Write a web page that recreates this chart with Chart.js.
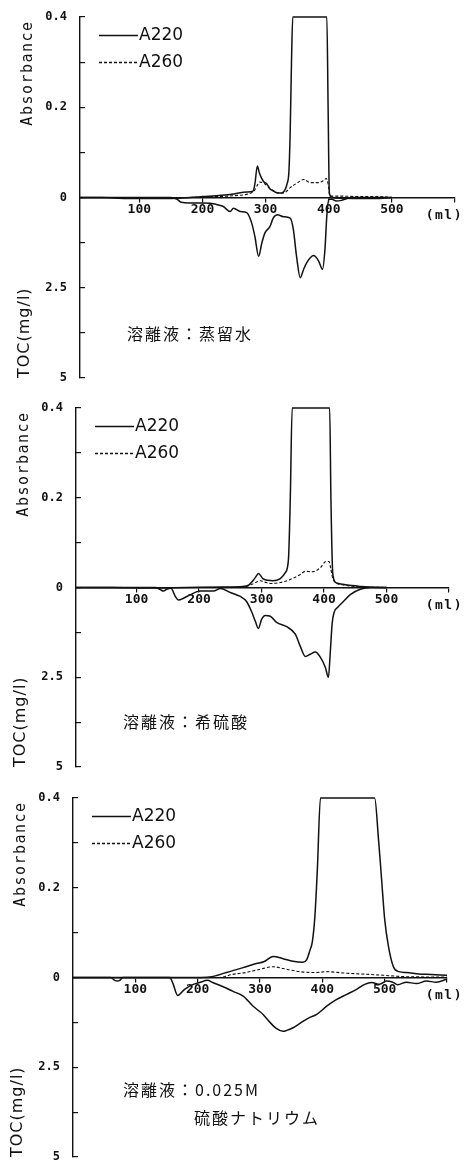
<!DOCTYPE html>
<html>
<head>
<meta charset="utf-8">
<script src="https://cdn.jsdelivr.net/npm/chart.js@4.4.0/dist/chart.umd.min.js"></script>
<style>
    html, body { margin: 0; padding: 0; background: #fff; }
    body { width: 465px; height: 1162px; position: relative; overflow: hidden; }
    canvas { position: absolute; left: 0; }
</style>
</head>
<body>
<canvas id="panel1" width="465" height="390" style="top:0px"></canvas>
<canvas id="panel2" width="465" height="390" style="top:390px"></canvas>
<canvas id="panel3" width="465" height="382" style="top:780px"></canvas>
<script>
// 눈금 값과 라벨
const xTickValues = [100, 200, 300, 400, 500, 600];
const xTickLabels = ['100', '200', '300', '400', '500', ''];
const yTickValues = [-0.4, -0.3, -0.2, -0.1, 0, 0.1, 0.2, 0.3, 0.4];
const yTickLabels = ['5', '', '2.5', '', '0', '', '0.2', '', '0.4'];
const seriesLabels = ['A220', 'A260', 'TOC'];

// 패널 1: 蒸留水
const p1A220Ml = [6, 40, 80, 110, 150, 180, 200, 230, 250, 270, 280, 283, 287, 290, 294, 297, 302, 307, 312, 318, 326, 331, 334, 337, 339, 341, 343, 397, 399, 401, 405, 440, 480, 500];
const p1A220   = [0, 0, -0.002, -0.002, -0.002, 0, 0.002, 0.005, 0.008, 0.012, 0.014, 0.03, 0.07, 0.055, 0.042, 0.035, 0.03, 0.019, 0.015, 0.01, 0.01, 0.018, 0.03, 0.06, 0.15, 0.3, 0.4, 0.4, 0.2, 0.01, 0, -0.002, -0.002, 0];
const p1A260Ml = [6, 60, 120, 180, 220, 250, 275, 282, 286, 291, 299, 307, 318, 329, 339, 350, 360, 371, 384, 392, 396, 399, 402, 420, 450, 480, 500];
const p1A260   = [0, 0, -0.001, 0, 0.002, 0.004, 0.009, 0.015, 0.025, 0.034, 0.03, 0.02, 0.011, 0.01, 0.022, 0.032, 0.04, 0.033, 0.033, 0.038, 0.042, 0.03, 0.003, 0.003, 0.002, 0.002, 0];
const p1TocMl  = [6, 100, 150, 160, 166, 180, 200, 212, 228, 233, 244, 249, 260, 270, 278, 283, 289, 294, 299, 307, 312, 319, 328, 339, 344, 349, 355, 360, 365, 376, 384, 390, 394, 397, 400, 405, 412, 420, 430, 440, 500];
const p1Toc    = [0, 0, 0, 0.05, 0.13, 0.15, 0.15, 0.16, 0.22, 0.25, 0.39, 0.3, 0.39, 0.42, 0.71, 1.08, 1.63, 1.26, 0.98, 0.8, 0.57, 0.48, 0.53, 0.57, 0.89, 1.63, 2.22, 2.0, 1.81, 1.61, 1.76, 1.99, 1.44, 0.5, 0.05, 0.05, 0.1, 0.08, 0.02, 0, 0];
const p1Eluent = ['溶離液：蒸留水'];

// 패널 2: 希硫酸
const p2A220Ml = [3, 60, 120, 180, 240, 270, 280, 290, 295, 302, 310, 318, 330, 338, 343, 346, 349, 409, 411, 414, 420, 430, 440, 455, 470, 500];
const p2A220   = [0, 0, -0.001, 0, 0.001, 0.002, 0.006, 0.022, 0.031, 0.02, 0.016, 0.015, 0.02, 0.033, 0.062, 0.2, 0.4, 0.4, 0.2, 0.03, 0.01, 0.007, 0.005, 0.003, 0.001, 0];
const p2A260Ml = [3, 100, 200, 270, 283, 293, 298, 305, 314, 330, 346, 362, 370, 381, 394, 403, 408, 411, 414, 420, 430, 445, 470, 500];
const p2A260   = [0, 0, 0, 0.001, 0.006, 0.013, 0.015, 0.012, 0.009, 0.011, 0.018, 0.029, 0.036, 0.035, 0.044, 0.058, 0.058, 0.04, 0.02, 0.01, 0.006, 0.003, 0.001, 0];
const p2TocMl  = [3, 100, 130, 138, 143, 148, 155, 162, 167, 175, 186, 202, 223, 234, 250, 266, 276, 284, 290, 295, 300, 306, 314, 324, 341, 354, 362, 370, 378, 386, 394, 402, 407, 410, 413, 416, 422, 431, 442, 458, 475, 500];
const p2Toc    = [0, 0, 0, 0.06, 0.1, 0.05, 0.02, 0.25, 0.35, 0.3, 0.2, 0.1, 0.1, 0.03, 0.14, 0.25, 0.39, 0.67, 0.94, 1.14, 0.89, 0.78, 0.8, 0.97, 1.1, 1.3, 1.64, 1.92, 1.86, 1.8, 1.94, 2.22, 2.5, 1.8, 1.0, 0.7, 0.55, 0.39, 0.2, 0.05, 0, 0];
const p2Eluent = ['溶離液：希硫酸'];

// 패널 3: 0.025M 硫酸ナトリウム
const p3A220Ml = [0, 100, 200, 219, 246, 273, 294, 306, 321, 337, 353, 369, 375, 380, 384, 388, 392, 397, 484, 490, 495, 500, 506, 514, 523, 535, 555, 567, 600];
const p3A220   = [0, 0, 0, 0.001, 0.011, 0.022, 0.031, 0.035, 0.047, 0.042, 0.036, 0.034, 0.04, 0.06, 0.08, 0.135, 0.24, 0.4, 0.4, 0.31, 0.22, 0.13, 0.07, 0.024, 0.013, 0.011, 0.008, 0.007, 0.005];
const p3A260Ml = [0, 100, 200, 235, 256, 277, 299, 321, 337, 364, 391, 407, 434, 460, 498, 530, 600];
const p3A260   = [0, 0, 0, 0, 0.007, 0.011, 0.018, 0.024, 0.02, 0.013, 0.011, 0.013, 0.01, 0.008, 0.005, 0.002, 0.001];
const p3TocMl  = [0, 60, 67, 71, 75, 80, 155, 160, 168, 179, 192, 203, 216, 224, 240, 256, 273, 289, 299, 305, 316, 326, 337, 342, 353, 369, 380, 391, 407, 423, 439, 455, 468, 479, 492, 503, 513, 521, 535, 551, 567, 583, 599];
const p3Toc    = [0, 0, 0.08, 0.1, 0.08, 0, 0, 0.15, 0.5, 0.33, 0.2, 0.14, 0.08, 0.14, 0.25, 0.38, 0.52, 0.8, 0.94, 1.03, 1.25, 1.42, 1.5, 1.48, 1.4, 1.22, 1.11, 1.03, 0.8, 0.61, 0.47, 0.33, 0.19, 0.14, 0.19, 0.1, 0.13, 0.2, 0.13, 0.17, 0.1, 0.13, 0.05];
const p3Eluent = ['溶離液：0.025M', '硫酸ナトリウム'];

const INK = '#111';

// 축 제목, 범례, 주석 그리기
const decorPlugin = {
    id: 'decor',
    afterDraw(chart, args, opts) {
        const { ctx, chartArea: a } = chart;
        const zeroY = chart.scales.y.getPixelForValue(0);
        ctx.save();
        ctx.fillStyle = INK;
        ctx.strokeStyle = INK;

        // 세로축 제목
        ctx.save();
        ctx.font = '15px "DejaVu Sans Mono"';
        ctx.letterSpacing = '1.5px';
        ctx.translate(a.left - 52, a.top + 56);
        ctx.rotate(-Math.PI / 2);
        ctx.textAlign = 'center';
        ctx.textBaseline = 'middle';
        ctx.fillText('Absorbance', 0, 0);
        ctx.restore();

        ctx.save();
        ctx.font = '16px "DejaVu Sans"';
        ctx.letterSpacing = '1px';
        ctx.translate(a.left - 55, a.bottom);
        ctx.rotate(-Math.PI / 2);
        ctx.textAlign = 'left';
        ctx.textBaseline = 'middle';
        ctx.fillText('TOC(mg/l)', 0, 0);
        ctx.restore();

        // 범례 (A220, A260)
        ctx.font = '17px "DejaVu Sans"';
        ctx.textAlign = 'left';
        ctx.textBaseline = 'middle';
        chart.data.datasets.slice(0, 2).forEach((ds, i) => {
            const y = Math.round(a.top + 18 + i * 27) + 0.5;
            ctx.save();
            ctx.lineWidth = 1.3;
            ctx.setLineDash(ds.borderDash || []);
            ctx.beginPath();
            ctx.moveTo(a.left + 19, y);
            ctx.lineTo(a.left + 58, y);
            ctx.stroke();
            ctx.restore();
            ctx.fillText(ds.label, a.left + 59, y);
        });

        // 단위
        ctx.font = 'bold 13px "DejaVu Sans Mono"';
        ctx.letterSpacing = '1.5px';
        ctx.textAlign = 'right';
        ctx.fillText('(ml)', chart.width - 2, zeroY + 18);

        // 용리액
        ctx.font = '16px "Noto Sans CJK JP"';
        ctx.letterSpacing = '2px';
        ctx.textAlign = 'left';
        opts.lines.forEach((t, i) => {
            ctx.fillText(t, a.left + opts.pos[i][0], a.top + opts.pos[i][1]);
        });
        ctx.restore();
    }
};

function toPoints(xs, ys) {
    return xs.map((x, i) => ({ x: x, y: ys[i] }));
}

function makePanel(id, p) {
    const lineBase = { pointRadius: 0, borderColor: INK, cubicInterpolationMode: 'monotone', clip: 4 };
    return new Chart(document.getElementById(id), {
        type: 'line',
        data: {
            datasets: [
                Object.assign({ label: seriesLabels[0], data: toPoints(p.a220Ml, p.a220), yAxisID: 'y', borderWidth: 1.5 }, lineBase),
                Object.assign({ label: seriesLabels[1], data: toPoints(p.a260Ml, p.a260), yAxisID: 'y', borderWidth: 1.1, borderDash: [3, 2] }, lineBase),
                Object.assign({ label: seriesLabels[2], data: toPoints(p.tocMl, p.toc), yAxisID: 'yToc', borderWidth: 1.5 }, lineBase)
            ]
        },
        options: {
            responsive: false,
            animation: false,
            devicePixelRatio: 1,
            layout: { padding: { top: p.padTop, bottom: p.padBottom, left: 0, right: p.padRight } },
            plugins: {
                legend: { display: false },
                tooltip: { enabled: false },
                decor: { lines: p.eluent, pos: p.eluentPos }
            },
            scales: {
                x: {
                    type: 'linear',
                    position: { y: 0 },
                    min: p.xMin,
                    max: 600,
                    afterBuildTicks: s => { s.ticks = xTickValues.map(v => ({ value: v })); },
                    afterFit: s => { s.paddingLeft = 0; s.paddingRight = 0; },
                    ticks: {
                        padding: 0,
                        color: INK,
                        font: { family: 'DejaVu Sans Mono', size: 13, weight: 'bold' },
                        callback: (v, i) => xTickLabels[i]
                    },
                    grid: { drawOnChartArea: false, tickLength: 4, color: INK, lineWidth: 1.2 },
                    border: { display: true, color: INK, width: 1.4 }
                },
                y: {
                    type: 'linear',
                    position: 'left',
                    min: -0.4,
                    max: 0.4,
                    afterBuildTicks: s => { s.ticks = yTickValues.map(v => ({ value: v })); },
                    afterFit: s => { s.width = p.left; s.paddingTop = 0; s.paddingBottom = 0; },
                    ticks: {
                        padding: 18,
                        color: INK,
                        font: { family: 'DejaVu Sans Mono', size: 12, weight: 'bold' },
                        callback: (v, i) => yTickLabels[i]
                    },
                    grid: { drawOnChartArea: false, tickLength: -5, color: INK, lineWidth: 1.2 },
                    border: { display: true, color: INK, width: 1.4 }
                },
                yToc: {
                    type: 'linear',
                    display: false,
                    reverse: true,
                    min: -5,
                    max: 5
                }
            }
        },
        plugins: [decorPlugin]
    });
}

makePanel('panel1', {
    a220Ml: p1A220Ml, a220: p1A220, a260Ml: p1A260Ml, a260: p1A260, tocMl: p1TocMl, toc: p1Toc,
    eluent: p1Eluent, eluentPos: [[47, 317]],
    xMin: 6, left: 80, padTop: 17, padBottom: 12, padRight: 10
});
makePanel('panel2', {
    a220Ml: p2A220Ml, a220: p2A220, a260Ml: p2A260Ml, a260: p2A260, tocMl: p2TocMl, toc: p2Toc,
    eluent: p2Eluent, eluentPos: [[47, 314]],
    xMin: 3, left: 76, padTop: 18, padBottom: 13, padRight: 16
});
makePanel('panel3', {
    a220Ml: p3A220Ml, a220: p3A220, a260Ml: p3A260Ml, a260: p3A260, tocMl: p3TocMl, toc: p3Toc,
    eluent: p3Eluent, eluentPos: [[50, 292], [121, 320]],
    xMin: 0, left: 73, padTop: 18, padBottom: 5, padRight: 18
});
</script>
</body>
</html>
